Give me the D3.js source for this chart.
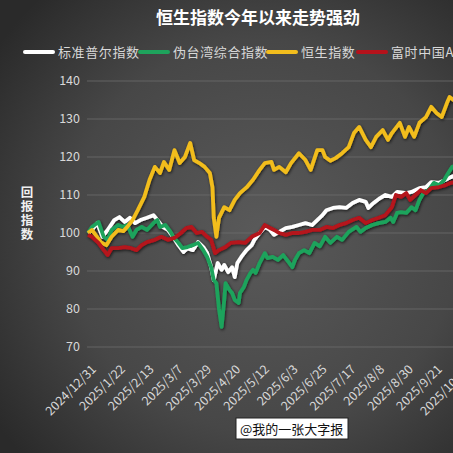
<!DOCTYPE html>
<html>
<head>
<meta charset="utf-8">
<script src="https://cdn.jsdelivr.net/npm/d3@7"></script>
<style>
    html, body { margin: 0; padding: 0; background: #333; overflow: hidden; }
    text { font-family: "Noto Sans CJK SC", "Noto Sans", sans-serif; }
</style>
</head>
<body>
<svg id="chart" width="453" height="453"></svg>
<script>
// series names and colours, in legend order
const SERIES_NAMES = ['标准普尔指数', '伪台湾综合指数', '恒生指数', '富时中国A50']
const SERIES_COLORS = ['#ffffff', '#1ea35c', '#f2bd1d', '#b5121b']

const Y_TICKS = [70, 80, 90, 100, 110, 120, 130, 140]

// S&P 500
const spxDates = ['2024-12-31', '2025-01-03', '2025-01-07', '2025-01-11', '2025-01-15', '2025-01-20', '2025-01-24', '2025-01-28',
    '2025-02-01', '2025-02-05', '2025-02-09', '2025-02-14', '2025-02-19', '2025-02-22', '2025-02-26', '2025-03-02', '2025-03-06',
    '2025-03-10', '2025-03-14', '2025-03-17', '2025-03-21', '2025-03-25', '2025-03-29', '2025-04-01', '2025-04-04', '2025-04-06',
    '2025-04-09', '2025-04-12', '2025-04-14', '2025-04-17', '2025-04-20', '2025-04-22', '2025-04-24', '2025-04-27', '2025-05-01',
    '2025-05-05', '2025-05-07', '2025-05-11', '2025-05-15', '2025-05-19', '2025-05-22', '2025-05-26', '2025-05-31', '2025-06-05',
    '2025-06-10', '2025-06-15', '2025-06-20', '2025-06-24', '2025-06-28', '2025-07-01', '2025-07-06', '2025-07-11', '2025-07-16',
    '2025-07-21', '2025-07-26', '2025-07-31', '2025-08-02', '2025-08-06', '2025-08-11', '2025-08-15', '2025-08-20', '2025-08-24',
    '2025-08-31', '2025-09-04', '2025-09-10', '2025-09-15', '2025-09-19', '2025-09-25', '2025-09-30', '2025-10-04', '2025-10-10']
const spxValues = [100, 100.8, 102.6, 99, 100.8, 103.4, 104.2, 102.9,
    104, 102.6, 103.4, 104, 104.7, 103.4, 101.6, 100.8, 99,
    96.8, 95, 96, 95.5, 97.6, 96.3, 94.7, 91, 87.6,
    92.1, 90.3, 91.6, 89.7, 91, 88.4, 92.1, 93.7, 95.5,
    96.8, 98.2, 100, 101.6, 100.8, 99.5, 100.3, 101.3, 101.6,
    102.1, 102.6, 102.1, 103.4, 104.7, 106, 106.6, 106.8, 106.6,
    107.9, 108.7, 108.2, 106.6, 107.9, 109.2, 110, 109.5, 110.8,
    110.5, 110.8, 111.8, 112.1, 113.4, 113.2, 114, 114.7, 115.5]

// Taiwan
const twDates = ['2024-12-31', '2025-01-03', '2025-01-08', '2025-01-12', '2025-01-15', '2025-01-18', '2025-01-23', '2025-01-27',
    '2025-01-30', '2025-02-03', '2025-02-06', '2025-02-10', '2025-02-14', '2025-02-19', '2025-02-22', '2025-02-24', '2025-02-28',
    '2025-03-04', '2025-03-06', '2025-03-10', '2025-03-13', '2025-03-17', '2025-03-21', '2025-03-25', '2025-03-29', '2025-04-01',
    '2025-04-04', '2025-04-06', '2025-04-08', '2025-04-10', '2025-04-12', '2025-04-14', '2025-04-15', '2025-04-18', '2025-04-20',
    '2025-04-22', '2025-04-25', '2025-04-26', '2025-04-29', '2025-05-01', '2025-05-04', '2025-05-06', '2025-05-08', '2025-05-11',
    '2025-05-15', '2025-05-17', '2025-05-21', '2025-05-25', '2025-05-29', '2025-06-02', '2025-06-05', '2025-06-07', '2025-06-10',
    '2025-06-14', '2025-06-18', '2025-06-22', '2025-06-26', '2025-06-30', '2025-07-04', '2025-07-09', '2025-07-13', '2025-07-18',
    '2025-07-24', '2025-07-27', '2025-07-31', '2025-08-05', '2025-08-10', '2025-08-15', '2025-08-19', '2025-08-21', '2025-08-24',
    '2025-08-27', '2025-08-31', '2025-09-04', '2025-09-07', '2025-09-10', '2025-09-13', '2025-09-17', '2025-09-21', '2025-09-25',
    '2025-09-29', '2025-10-02', '2025-10-05', '2025-10-10']
const twValues = [100, 101.6, 102.9, 99, 98.2, 100.8, 102.1, 101.6,
    102.1, 99, 100.8, 101.6, 100.8, 102.6, 103.4, 101.6, 102.1,
    100.3, 99, 97.4, 96, 96.3, 96.8, 97.4, 95.5, 93.7,
    91, 87.6, 86.8, 80, 75.3, 82.4, 86.8, 85, 84.2,
    82.4, 81.6, 84.2, 85.8, 87.6, 89.5, 90.3, 89.5, 92.1,
    94.7, 93.4, 93.7, 92.9, 94.2, 92.4, 91, 92.9, 94.7,
    95.5, 94.7, 97.4, 96.5, 99, 97.4, 99, 98.2, 100.3,
    101.6, 100.3, 101.3, 102.1, 102.6, 102.9, 104, 102.9, 105.3,
    105.5, 105.3, 106.8, 106, 108.7, 110.5, 111.3, 113.2, 112.6,
    114, 115.8, 117.4, 118]

// Hang Seng
const hsiDates = ['2024-12-31', '2025-01-03', '2025-01-10', '2025-01-14', '2025-01-18', '2025-01-23', '2025-01-27', '2025-01-30',
    '2025-02-03', '2025-02-07', '2025-02-12', '2025-02-16', '2025-02-20', '2025-02-24', '2025-02-27', '2025-03-03', '2025-03-07',
    '2025-03-11', '2025-03-15', '2025-03-19', '2025-03-22', '2025-03-26', '2025-03-30', '2025-04-03', '2025-04-05', '2025-04-06',
    '2025-04-08', '2025-04-10', '2025-04-14', '2025-04-18', '2025-04-22', '2025-04-26', '2025-05-01', '2025-05-06', '2025-05-11',
    '2025-05-15', '2025-05-20', '2025-05-22', '2025-05-26', '2025-05-31', '2025-06-04', '2025-06-10', '2025-06-15', '2025-06-19',
    '2025-06-24', '2025-06-28', '2025-06-30', '2025-07-04', '2025-07-08', '2025-07-13', '2025-07-18', '2025-07-22', '2025-07-26',
    '2025-07-31', '2025-08-04', '2025-08-08', '2025-08-13', '2025-08-17', '2025-08-20', '2025-08-26', '2025-08-30', '2025-09-02',
    '2025-09-06', '2025-09-10', '2025-09-15', '2025-09-19', '2025-09-23', '2025-09-27', '2025-10-01', '2025-10-03', '2025-10-06',
    '2025-10-10']
const hsiValues = [100, 100.8, 97.5, 96.8, 99, 100.8, 100.5, 101.6,
    103.4, 106, 109.5, 114, 117.4, 115.8, 118.7, 116.6, 121.8,
    118.4, 120, 123.7, 119.2, 118.4, 117.4, 115.8, 112, 104,
    99, 104, 106.8, 106, 108.7, 110.5, 112, 114, 116.6,
    118.4, 118.7, 116.6, 117.4, 116, 118.4, 121, 119.2, 116.6,
    121.8, 121.8, 120, 119, 119.7, 121, 122.6, 126.3, 127.9,
    124.5, 122.6, 125.3, 127.1, 124.5, 126.3, 129, 125.3, 127.9,
    125.3, 129, 130.5, 133.2, 131.6, 130.5, 134.2, 135.8, 135,
    134]

// FTSE China A50
const a50Dates = ['2024-12-31', '2025-01-03', '2025-01-08', '2025-01-12', '2025-01-15', '2025-01-18', '2025-01-23', '2025-01-28',
    '2025-02-02', '2025-02-06', '2025-02-10', '2025-02-14', '2025-02-20', '2025-02-25', '2025-03-02', '2025-03-07', '2025-03-12',
    '2025-03-16', '2025-03-20', '2025-03-24', '2025-03-28', '2025-04-01', '2025-04-04', '2025-04-07', '2025-04-10', '2025-04-15',
    '2025-04-19', '2025-04-25', '2025-04-30', '2025-05-05', '2025-05-11', '2025-05-15', '2025-05-19', '2025-05-22', '2025-05-26',
    '2025-05-31', '2025-06-05', '2025-06-10', '2025-06-15', '2025-06-20', '2025-06-26', '2025-07-01', '2025-07-06', '2025-07-11',
    '2025-07-16', '2025-07-21', '2025-07-26', '2025-07-31', '2025-08-05', '2025-08-10', '2025-08-15', '2025-08-20', '2025-08-23',
    '2025-08-27', '2025-08-31', '2025-09-03', '2025-09-07', '2025-09-11', '2025-09-15', '2025-09-19', '2025-09-25', '2025-09-30',
    '2025-10-04', '2025-10-10']
const a50Values = [99.5, 99, 97.4, 95.5, 94.2, 96, 96, 96.3,
    96, 95.5, 96.8, 97.6, 98.2, 99, 98.2, 98.7, 100,
    101.3, 101.6, 100, 100.3, 99, 98.2, 94.7, 95.5, 96.3,
    97.4, 97.6, 97.4, 99, 100, 102.1, 101.3, 100.8, 100,
    99.5, 100, 100, 100.3, 100.8, 100.8, 101.6, 101.3, 102.1,
    102.6, 103.4, 104, 102.6, 103.4, 104, 104.7, 106.8, 110,
    109.5, 110.5, 108.7, 110, 111.3, 110.5, 111.8, 112.1, 112.6,
    113.2, 113.5]

const SERIES_DATES = [spxDates, twDates, hsiDates, a50Dates]
const SERIES_VALUES = [spxValues, twValues, hsiValues, a50Values]

const X_START = '2024-12-31'
const X_END = '2025-10-15'
const TICK_STEP_DAYS = 22


const parseDate = d3.timeParse('%Y-%m-%d')
const formatTick = d3.timeFormat('%Y/%-m/%-d')

const W = 453
const H = 453
const PLOT_LEFT = 88
const PLOT_TOP = 81
const PLOT_BOTTOM = 347
const PX_PER_DAY = 1.31

let svg = d3.select('#chart')

let defs = svg.append('defs')
let bg = defs.append('radialGradient')
    .attr('id', 'bg')
    .attr('cx', '58%').attr('cy', '52%').attr('r', '72%')
bg.append('stop').attr('offset', '0%').attr('stop-color', '#5a5a5a')
bg.append('stop').attr('offset', '60%').attr('stop-color', '#474747')
bg.append('stop').attr('offset', '100%').attr('stop-color', '#2a2a2a')

let shadow = defs.append('filter')
    .attr('id', 'shadow')
    .attr('x', '-5%').attr('y', '-5%').attr('width', '110%').attr('height', '110%')
shadow.append('feDropShadow')
    .attr('dx', 0.8).attr('dy', 1.2)
    .attr('stdDeviation', 1.4)
    .attr('flood-color', '#000')
    .attr('flood-opacity', 0.7)

svg.append('rect')
    .attr('width', W).attr('height', H)
    .attr('fill', 'url(#bg)')

const x0 = parseDate(X_START)
const x1 = parseDate(X_END)
const x = d3.scaleTime()
    .domain([x0, x1])
    .range([PLOT_LEFT, PLOT_LEFT + d3.timeDay.count(x0, x1) * PX_PER_DAY])

const y = d3.scaleLinear()
    .domain([70, 140])
    .range([PLOT_BOTTOM, PLOT_TOP])

// gridlines + y labels
let yAxis = svg.append('g')
yAxis.selectAll('line')
    .data(Y_TICKS)
    .enter().append('line')
    .attr('x1', PLOT_LEFT - 1).attr('x2', W)
    .attr('y1', (d) => y(d)).attr('y2', (d) => y(d))
    .attr('stroke', '#6c6c6c')
    .attr('stroke-width', 0.8)

yAxis.selectAll('text')
    .data(Y_TICKS)
    .enter().append('text')
    .attr('x', 80)
    .attr('y', (d) => y(d))
    .attr('dy', '0.35em')
    .attr('text-anchor', 'end')
    .attr('font-family', '"Open Sans", sans-serif')
    .attr('font-size', 12.5)
    .attr('fill', '#d8d8d8')
    .text((d) => d)

// x labels, rotated
let xTicks = d3.timeDay.every(1).range(x0, d3.timeDay.offset(x1, 1))
    .filter((d, i) => i % TICK_STEP_DAYS === 0)

svg.append('g')
    .selectAll('text')
    .data(xTicks)
    .enter().append('text')
    .attr('transform', (d) => 'translate(' + (x(d) + 9) + ',' + 370 + ') rotate(-45)')
    .attr('text-anchor', 'end')
    .attr('font-family', '"Open Sans", sans-serif')
    .attr('font-size', 12.5)
    .attr('fill', '#d8d8d8')
    .text((d) => formatTick(d))

// lines
const line = d3.line()
    .x((d) => x(d.date))
    .y((d) => y(d.value))

let lines = svg.append('g').attr('filter', 'url(#shadow)')
SERIES_NAMES.forEach((name, i) => {
    let pts = SERIES_DATES[i].map((s, j) => ({ date: parseDate(s), value: SERIES_VALUES[i][j] }))
    lines.append('path')
        .datum(pts)
        .attr('fill', 'none')
        .attr('stroke', SERIES_COLORS[i])
        .attr('stroke-width', 3.8)
        .attr('stroke-linejoin', 'round')
        .attr('d', line)
})

// title
svg.append('text')
    .attr('x', 258).attr('y', 24)
    .attr('text-anchor', 'middle')
    .attr('font-size', 17)
    .attr('font-weight', 'bold')
    .attr('fill', '#ffffff')
    .text('恒生指数今年以来走势强劲')

// legend
const LEGEND_X = [25, 140, 268, 358]
let legend = svg.append('g')
SERIES_NAMES.forEach((name, i) => {
    legend.append('line')
        .attr('x1', LEGEND_X[i]).attr('x2', LEGEND_X[i] + 28)
        .attr('y1', 52).attr('y2', 52)
        .attr('stroke', SERIES_COLORS[i])
        .attr('stroke-width', 4)
        .attr('stroke-linecap', 'round')
    legend.append('text')
        .attr('x', LEGEND_X[i] + 33).attr('y', 57)
        .attr('font-size', 13)
        .attr('letter-spacing', 0.6)
        .attr('fill', '#d8d8d8')
        .text(name)
})

// y axis title, vertical
svg.append('text')
    .attr('x', 27)
    .attr('y', 186)
    .style('writing-mode', 'vertical-rl')
    .style('text-orientation', 'upright')
    .attr('font-size', 12.5)
    .attr('font-weight', 'bold')
    .attr('letter-spacing', 1.5)
    .attr('fill', '#f0f0f0')
    .text('回报指数')

// watermark
svg.append('rect')
    .attr('x', 236).attr('y', 418)
    .attr('width', 112).attr('height', 21)
    .attr('fill', '#ffffff')
    .attr('stroke', '#222')
    .attr('stroke-width', 1)
svg.append('text')
    .attr('x', 240).attr('y', 434)
    .attr('font-size', 13)
    .attr('fill', '#111')
    .text('@我的一张大字报')
</script>
</body>
</html>
